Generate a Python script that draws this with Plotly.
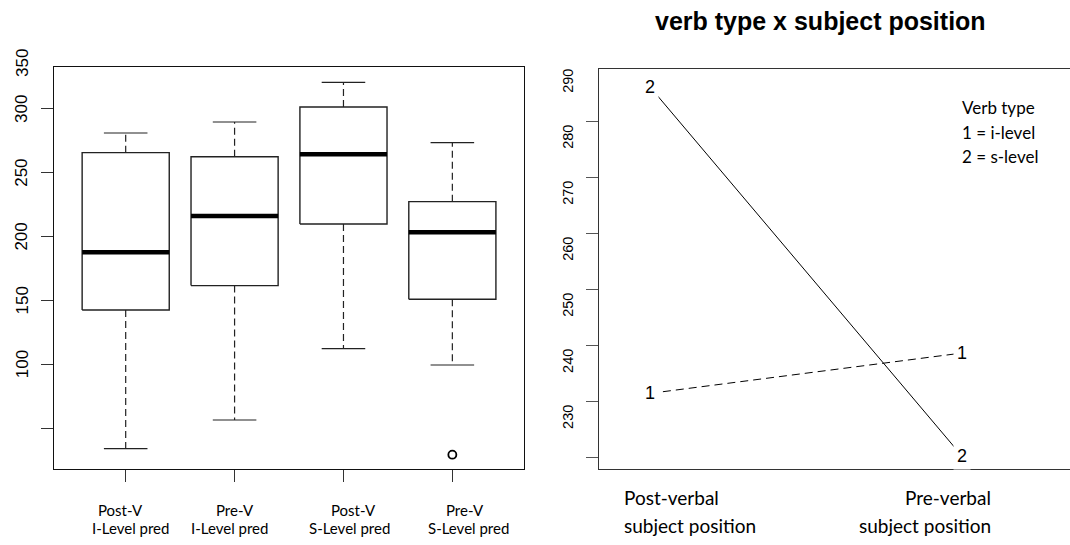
import plotly.graph_objects as go

W, H = 1070, 545

# ---------------- data: left panel (boxplot summary) ----------------
box_pos = [1, 2, 3, 4]
label_top = ["Post-V", "Pre-V", "Post-V", "Pre-V"]
label_bottom = ["I-Level pred", "I-Level pred", "S-Level pred", "S-Level pred"]
whisker_low = [33.8, 56.3, 112.2, 99.4]
q1 = [142.5, 161.6, 209.9, 150.9]
median = [187.7, 216.1, 264.5, 203.4]
q3 = [265.8, 262.6, 301.6, 227.4]
whisker_high = [281.2, 289.8, 320.9, 273.6]
outlier_pos = [4]
outlier_val = [29.1]
left_tick_vals = [50, 100, 150, 200, 250, 300]
left_tick_labels = ["100", "150", "200", "250", "300", "350"]

# ---------------- data: right panel (interaction plot) ----------------
subj_pos = [1, 2]
subj_line1 = ["Post-verbal", "Pre-verbal"]
subj_line2 = ["subject position", "subject position"]
ilevel_means = [231.4, 238.6]
slevel_means = [286.1, 220.2]
right_tick_vals = [220, 230, 240, 250, 260, 270, 280]
right_tick_labels = ["230", "240", "250", "260", "270", "280", "290"]
legend_lines = ["Verb type", "1 = i-level", "2 = s-level"]

# ---------------- styles ----------------
HALF_BOX = 0.4
HALF_CAP = 0.2
LEFT_RANGE = [17.9, 332.9]
RIGHT_RANGE = [217.9, 289.3]
RIGHT_LABEL_DROP = 2.8   # labels in the reference sit a little below their ticks
ARIAL = "Liberation Sans, Arial, sans-serif"
CALIBRI = "Lato, Carlito, Calibri, sans-serif"

fig = go.Figure()

def seg_traces(xs, ys):
    X, Y = [], []
    for xx, yy in zip(xs, ys):
        X += xx + [None]
        Y += yy + [None]
    return X, Y

# boxes
bx, by = seg_traces(
    [[p - HALF_BOX, p + HALF_BOX, p + HALF_BOX, p - HALF_BOX, p - HALF_BOX] for p in box_pos],
    [[a, a, b, b, a] for a, b in zip(q1, q3)])
fig.add_trace(go.Scatter(x=bx, y=by, mode="lines", line=dict(color="#222", width=1.4),
                         xaxis="x", yaxis="y", hoverinfo="skip"))
# whiskers (dashed)
wx, wy = seg_traces(
    [[p, p] for p in box_pos] + [[p, p] for p in box_pos],
    [[a, b] for a, b in zip(q3, whisker_high)] + [[a, b] for a, b in zip(q1, whisker_low)])
fig.add_trace(go.Scatter(x=wx, y=wy, mode="lines", line=dict(color="#222", width=1.2, dash="7px,4px"),
                         xaxis="x", yaxis="y", hoverinfo="skip"))
# caps
cx, cy = seg_traces(
    [[p - HALF_CAP, p + HALF_CAP] for p in box_pos] * 2,
    [[v, v] for v in whisker_high] + [[v, v] for v in whisker_low])
fig.add_trace(go.Scatter(x=cx, y=cy, mode="lines", line=dict(color="#222", width=1.2),
                         xaxis="x", yaxis="y", hoverinfo="skip"))
# medians
mx, my = seg_traces([[p - HALF_BOX, p + HALF_BOX] for p in box_pos], [[v, v] for v in median])
fig.add_trace(go.Scatter(x=mx, y=my, mode="lines", line=dict(color="black", width=4.5),
                         xaxis="x", yaxis="y", hoverinfo="skip"))
# outlier
fig.add_trace(go.Scatter(x=outlier_pos, y=outlier_val, mode="markers",
                         marker=dict(symbol="circle-open", size=8, color="black", line=dict(width=1.8)),
                         xaxis="x", yaxis="y", hoverinfo="skip"))

# right panel lines
fig.add_trace(go.Scatter(x=subj_pos, y=slevel_means, mode="lines", line=dict(color="black", width=1),
                         xaxis="x2", yaxis="y2", hoverinfo="skip"))
fig.add_trace(go.Scatter(x=subj_pos, y=ilevel_means, mode="lines",
                         line=dict(color="black", width=1, dash="8px,5px"),
                         xaxis="x2", yaxis="y2", hoverinfo="skip"))

ann = []
C = dict(showarrow=False, xanchor="center", yanchor="middle")
# point characters (masking line ends like R type="b")
for p, v in zip(subj_pos, slevel_means):
    ann.append(dict(x=p, y=v, xref="x2", yref="y2", text="2", **C,
                    font=dict(family=ARIAL, size=18, color="black"), bgcolor="white", borderpad=3))
for p, v in zip(subj_pos, ilevel_means):
    ann.append(dict(x=p, y=v, xref="x2", yref="y2", text="1", **C,
                    font=dict(family=ARIAL, size=18, color="black"), bgcolor="white", borderpad=3))

# left y labels (the top one sits at the frame's top edge, above the last tick)
for t in left_tick_labels:
    if int(t) <= LEFT_RANGE[1]:
        ann.append(dict(x=22 / W, y=int(t), xref="paper", yref="y", text=t, textangle=-90, **C,
                        font=dict(family=ARIAL, size=17, color="black")))
    else:
        ann.append(dict(x=22 / W, y=1 - 63 / H, xref="paper", yref="paper", text=t, textangle=-90, **C,
                        font=dict(family=ARIAL, size=17, color="black")))
# right y labels (sit slightly below their ticks)
for t in right_tick_labels:
    ann.append(dict(x=568 / W, y=int(t) - RIGHT_LABEL_DROP, xref="paper", yref="y2", text=t,
                    textangle=-90, **C, font=dict(family=ARIAL, size=14.5, color="black")))

# left x labels
top_shift = [-5, 0, 10, 13]
bot_shift = [5, -5, 6, 16]
for p, t1, t2, s1, s2 in zip(box_pos, label_top, label_bottom, top_shift, bot_shift):
    ann.append(dict(x=p, y=1 - 510 / H, xref="x", yref="paper", text=t1, xshift=s1, **C,
                    font=dict(family=CALIBRI, size=15, color="black")))
    ann.append(dict(x=p, y=1 - 528 / H, xref="x", yref="paper", text=t2, xshift=s2, **C,
                    font=dict(family=CALIBRI, size=15, color="black")))

# right x labels
for p, t1, t2, anchor, sh in zip(subj_pos, subj_line1, subj_line2, ["left", "right"], [-28, 31]):
    ann.append(dict(x=p, y=1 - 497 / H, xref="x2", yref="paper", text=t1, showarrow=False,
                    xanchor=anchor, yanchor="middle", xshift=sh,
                    font=dict(family=CALIBRI, size=19, color="black")))
    ann.append(dict(x=p, y=1 - 525 / H, xref="x2", yref="paper", text=t2, showarrow=False,
                    xanchor=anchor, yanchor="middle", xshift=sh,
                    font=dict(family=CALIBRI, size=19, color="black")))

# legend text
for i, t in enumerate(legend_lines):
    ann.append(dict(x=960 / W, y=1 - (107 + 25 * i) / H, xref="paper", yref="paper", text=t,
                    showarrow=False, xanchor="left", yanchor="middle",
                    font=dict(family=CALIBRI, size=17, color="black")))

# title
ann.append(dict(x=820 / W, y=1 - 21 / H, xref="paper", yref="paper", text="<b>verb type x subject position</b>",
                **C, font=dict(family=ARIAL, size=25, color="black")))

fig.update_layout(
    width=W, height=H, margin=dict(l=0, r=0, t=0, b=0),
    paper_bgcolor="white", plot_bgcolor="white", showlegend=False,
    annotations=ann,
    xaxis=dict(domain=[54 / W, 524 / W], range=[0.3416, 4.658], showline=True, mirror=True,
               linecolor="#111", linewidth=1.4, ticks="outside", ticklen=12, tickcolor="#333",
               tickvals=box_pos, showticklabels=False, showgrid=False, zeroline=False, anchor="y"),
    yaxis=dict(domain=[1 - 469 / H, 1 - 67 / H], range=LEFT_RANGE, showline=True, mirror=True,
               linecolor="#111", linewidth=1.4, ticks="outside", ticklen=12, tickcolor="#333",
               tickvals=left_tick_vals, showticklabels=False, showgrid=False, zeroline=False, anchor="x"),
    xaxis2=dict(domain=[599 / W, 1.0], range=[0.8365, 2.346], showline=True, mirror=True,
                linecolor="#333", linewidth=1, ticks="", showticklabels=False, showgrid=False,
                zeroline=False, anchor="y2"),
    yaxis2=dict(domain=[1 - 469 / H, 1 - 69 / H], range=RIGHT_RANGE, showline=True, mirror=False,
                linecolor="#333", linewidth=1, ticks="outside", ticklen=12, tickcolor="#555",
                tickvals=right_tick_vals, showticklabels=False, showgrid=False, zeroline=False,
                anchor="x2"),
)

fig.write_html("out.html", config={"displayModeBar": False},
               post_script="document.body.style.margin='0';document.body.style.overflow='hidden';")
